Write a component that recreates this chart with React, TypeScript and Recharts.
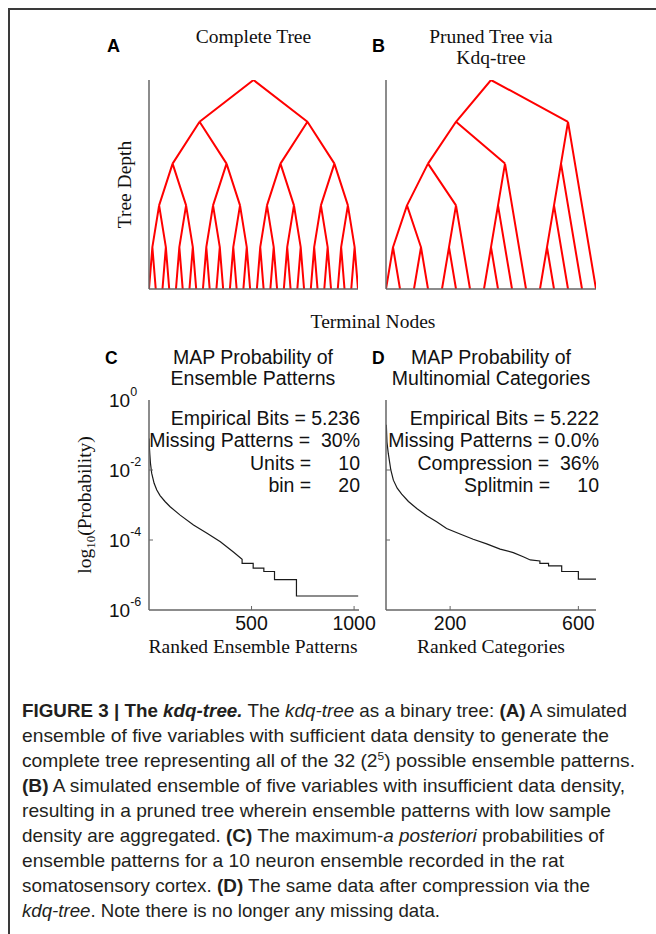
import React from 'react';
import { LineChart, Line, XAxis, YAxis } from 'recharts';

const SERIF = '"Liberation Serif", "Times New Roman", Times, serif';
const SANS = '"Liberation Sans", Arial, Helvetica, sans-serif';
const NARROW = '"Liberation Sans Narrow", "Arial Narrow", "Liberation Sans", Arial, sans-serif';
const AXIS = '#666666';
const TREE_RED = '#ff0000';
const INK = '#111111';

// ---------- Panel A: complete binary tree (5 levels, 32 terminal nodes)
const completeTreeLevels = 5;
// ---------- Panel B: pruned tree (0 = terminal node, [l, r] = split)
const prunedTree: any = [
  [
    [[[0, 0], [0, 0]], [[0, 0], 0]],
    [[[0, 0], 0], 0],
  ],
  [[[[0, 0], 0], 0], 0],
];

// ---------- Panel C: MAP probability of ensemble patterns
const cRanks = [1, 2, 4, 7, 13, 25, 38, 54, 78, 103, 152, 217, 283, 348, 413, 454, 454, 508, 508, 560, 560, 612, 612, 719, 719, 1020];
const cProbs = [
  0.0794, 0.0447, 0.0282, 0.0158, 0.00813, 0.00417, 0.00269, 0.00186, 0.00126, 0.000891, 0.000513, 0.000269,
  0.000155, 8.91e-5, 4.47e-5, 2.82e-5, 2.14e-5, 2.14e-5, 1.58e-5, 1.58e-5, 1.26e-5, 1.26e-5, 7.41e-6, 7.41e-6,
  2.51e-6, 2.51e-6,
];
const cXTicks = [500, 1000];
const cXMax = 1024;

// ---------- Panel D: MAP probability of multinomial categories
const dRanks = [1, 3, 7, 15, 23, 35, 49, 70, 96, 127, 158, 189, 231, 272, 314, 356, 397, 428, 450, 480, 480, 507, 507, 548, 548, 600, 600, 655];
const dProbs = [
  0.195, 0.0631, 0.0302, 0.01, 0.00513, 0.00302, 0.00204, 0.00126, 0.000794, 0.00049, 0.000331, 0.000214,
  0.000148, 0.000105, 7.76e-5, 5.5e-5, 4.37e-5, 3.31e-5, 2.69e-5, 2.51e-5, 2.14e-5, 2.14e-5, 1.82e-5, 1.82e-5,
  1.26e-5, 1.26e-5, 7.59e-6, 7.59e-6,
];
const dXTicks = [200, 600];
const dXMax = 655;

const logTicks = [1e-6, 1e-4, 1e-2, 1];

const cAnnotations = ['Empirical Bits = 5.236', 'Missing Patterns =  30%', 'Units =     10', 'bin =     20'];
const dAnnotations = ['Empirical Bits = 5.222', 'Missing Patterns = 0.0%', 'Compression =  36%', 'Splitmin =     10'];

type Seg = { t: string; b?: boolean; i?: boolean; sup?: boolean };
const captionLines: Seg[][] = [
  [{ t: 'FIGURE 3 | The ', b: true }, { t: 'kdq-tree.', b: true, i: true }, { t: ' The ' }, { t: 'kdq-tree', i: true }, { t: ' as a binary tree: ' }, { t: '(A)', b: true }, { t: ' A simulated' }],
  [{ t: 'ensemble of five variables with sufficient data density to generate the' }],
  [{ t: 'complete tree representing all of the 32 (2' }, { t: '5', sup: true }, { t: ') possible ensemble patterns.' }],
  [{ t: '(B)', b: true }, { t: ' A simulated ensemble of five variables with insufficient data density,' }],
  [{ t: 'resulting in a pruned tree wherein ensemble patterns with low sample' }],
  [{ t: 'density are aggregated. ' }, { t: '(C)', b: true }, { t: ' The maximum-' }, { t: 'a posteriori', i: true }, { t: ' probabilities of' }],
  [{ t: 'ensemble patterns for a 10 neuron ensemble recorded in the rat' }],
  [{ t: 'somatosensory cortex. ' }, { t: '(D)', b: true }, { t: ' The same data after compression via the' }],
  [{ t: 'kdq-tree', i: true }, { t: '. Note there is no longer any missing data.' }],
];
const captionEnds = [627, 609, 635, 625, 611, 604, 564, 590, 440];

// ---------- helpers
function buildComplete(levels: number): any {
  return levels === 0 ? 0 : [buildComplete(levels - 1), buildComplete(levels - 1)];
}

function treeSegments(tree: any, maxDepth: number) {
  let leafCounter = 0;
  const segs: { x: number; y: number | null }[] = [];
  const visit = (node: any, depth: number): { x: number; y: number; leaves: number[] } => {
    if (!Array.isArray(node)) {
      const x = leafCounter++;
      return { x, y: maxDepth, leaves: [x] };
    }
    const kids = node.map((c: any) => visit(c, depth + 1));
    const leaves: number[] = kids.flatMap((k: any) => k.leaves);
    const x = leaves.reduce((a, b) => a + b, 0) / leaves.length;
    kids.forEach((k: any) => {
      segs.push({ x, y: depth }, { x: k.x, y: k.y }, { x: k.x, y: null });
    });
    return { x, y: depth, leaves };
  };
  visit(tree, 0);
  return { segs, leafCount: leafCounter };
}

const treeA = treeSegments(buildComplete(completeTreeLevels), completeTreeLevels);
const treeB = treeSegments(prunedTree, completeTreeLevels);

const cData = cRanks.map((r, i) => ({ rank: r, p: cProbs[i] }));
const dData = dRanks.map((r, i) => ({ rank: r, p: dProbs[i] }));

function TreeChart({ tree, left, width }: { tree: { segs: any[]; leafCount: number }; left: number; width: number }) {
  return (
    <div style={{ position: 'absolute', left, top: 75 }}>
      <LineChart width={width} height={220} data={tree.segs} margin={{ top: 5, right: 6, bottom: 5, left: 4 }}>
        <XAxis
          type="number"
          dataKey="x"
          domain={[0, tree.leafCount - 1]}
          tick={false}
          tickLine={false}
          axisLine
          stroke={AXIS}
          strokeWidth={1.5}
          height={1}
          allowDataOverflow
        />
        <YAxis
          type="number"
          domain={[0, completeTreeLevels]}
          reversed
          tick={false}
          tickLine={false}
          axisLine
          stroke={AXIS}
          strokeWidth={1.5}
          width={1}
          allowDataOverflow
        />
        <Line
          type="linear"
          dataKey="y"
          stroke={TREE_RED}
          strokeWidth={2}
          dot={false}
          activeDot={false}
          connectNulls={false}
          isAnimationActive={false}
          strokeLinejoin="round"
        />
      </LineChart>
    </div>
  );
}

const makeYTick = (showLabel: boolean) => (props: any) => {
  const { x, y, payload } = props;
  const exp = Math.round(Math.log10(payload.value));
  return (
    <g>
      {exp > -6 && exp < 0 && <line x1={x} x2={x + 4} y1={y} y2={y} stroke={AXIS} strokeWidth={1} />}
      {showLabel && (
        <text x={x - 40} y={y + 6.5} fontFamily={SANS} fontSize={19} fill={INK} stroke="none">
          10
          <tspan dy={-11} fontSize={12.5}>
            {String(exp)}
          </tspan>
        </text>
      )}
    </g>
  );
};

const xTick = (props: any) => {
  const { x, y, payload } = props;
  return (
    <g>
      <line x1={x} x2={x} y1={y} y2={y - 4} stroke={AXIS} strokeWidth={1} />
      <text x={x} y={y + 20} textAnchor="middle" fontFamily={SANS} fontSize={19.5} fill={INK} stroke="none">
        {payload.value}
      </text>
    </g>
  );
};

function ProbChart({ data, xMax, xTicks, left, yWidth, showYLabels, width }: any) {
  return (
    <div style={{ position: 'absolute', left, top: 384 }}>
      <LineChart width={width} height={266} data={data} margin={{ top: 16, right: width - yWidth - 210, bottom: 0, left: 0 }}>
        <XAxis
          type="number"
          dataKey="rank"
          domain={[0, xMax]}
          ticks={xTicks}
          tick={xTick}
          tickLine={false}
          tickSize={0}
          tickMargin={0}
          axisLine
          stroke={AXIS}
          strokeWidth={1.5}
          height={40}
          allowDataOverflow
        />
        <YAxis
          type="number"
          scale="log"
          domain={[1e-6, 1]}
          ticks={logTicks}
          tick={makeYTick(showYLabels)}
          tickLine={false}
          tickSize={0}
          tickMargin={0}
          axisLine
          stroke={AXIS}
          strokeWidth={1.5}
          width={yWidth}
          allowDataOverflow
        />
        <Line type="linear" dataKey="p" stroke="#1a1a1a" strokeWidth={1.2} dot={false} activeDot={false} isAnimationActive={false} />
      </LineChart>
    </div>
  );
}

function Texts() {
  const serif = { fontFamily: SERIF, fontSize: 19.5, fill: INK } as any;
  const sans = { fontFamily: SANS, fontSize: 19.5, fill: INK } as any;
  const bold = { fontFamily: SANS, fontSize: 18, fontWeight: 700, fill: '#000' } as any;
  return (
    <svg width={656} height={934} style={{ position: 'absolute', left: 0, top: 0, pointerEvents: 'none' }}>
      {/* Panel A/B */}
      <text x={107} y={52} {...bold}>A</text>
      <text x={253.5} y={43} textAnchor="middle" {...serif}>Complete Tree</text>
      <text x={372} y={52} {...bold}>B</text>
      <text x={491} y={43} textAnchor="middle" {...serif}>Pruned Tree via</text>
      <text x={491} y={64} textAnchor="middle" {...serif}>Kdq-tree</text>
      <text transform="translate(131,184.5) rotate(-90)" textAnchor="middle" {...serif}>Tree Depth</text>
      <text x={373} y={328} textAnchor="middle" {...serif}>Terminal Nodes</text>

      {/* Panel C */}
      <text x={105} y={364} {...bold} fontSize={17.5}>C</text>
      <text x={253} y={364} textAnchor="middle" {...sans}>MAP Probability of</text>
      <text x={253} y={385} textAnchor="middle" {...sans}>Ensemble Patterns</text>
      {cAnnotations.map((s, i) => (
        <text key={s} x={360} y={425 + i * 22.3} textAnchor="end" style={{ whiteSpace: 'pre' }} {...sans}>
          {s}
        </text>
      ))}
      <text transform="translate(91,505) rotate(-90)" textAnchor="middle" {...serif}>
        log<tspan fontSize={13} dy={4}>10</tspan>
        <tspan dy={-4}>(Probability)</tspan>
      </text>
      <text x={253} y={653} textAnchor="middle" {...serif}>Ranked Ensemble Patterns</text>

      {/* Panel D */}
      <text x={372} y={364} {...bold} fontSize={17.5}>D</text>
      <text x={491} y={364} textAnchor="middle" {...sans}>MAP Probability of</text>
      <text x={491} y={385} textAnchor="middle" {...sans}>Multinomial Categories</text>
      {dAnnotations.map((s, i) => (
        <text key={s} x={599} y={425 + i * 22.3} textAnchor="end" style={{ whiteSpace: 'pre' }} {...sans}>
          {s}
        </text>
      ))}
      <text x={491} y={653} textAnchor="middle" {...serif}>Ranked Categories</text>

      {/* Caption */}
      {captionLines.map((line, li) => {
        let shifted = false;
        return (
          <text
            key={li}
            x={22}
            y={717 + li * 25}
            fontFamily={NARROW}
            fontSize={18.5}
            fill="#231f20"
            textLength={captionEnds[li] - 22}
            lengthAdjust="spacingAndGlyphs"
            style={{ whiteSpace: 'pre' }}
          >
            {line.map((s, si) => {
              let dy: number | undefined;
              if (s.sup) {
                dy = -7;
                shifted = true;
              } else if (shifted) {
                dy = 7;
                shifted = false;
              }
              return (
                <tspan
                  key={si}
                  dy={dy}
                  fontWeight={s.b ? 700 : 400}
                  fontStyle={s.i ? 'italic' : 'normal'}
                  fontSize={s.sup ? 11.5 : undefined}
                >
                  {s.t}
                </tspan>
              );
            })}
          </text>
        );
      })}
    </svg>
  );
}

export default function App() {
  return (
    <div style={{ position: 'absolute', left: 0, top: 0, width: 656, height: 934, overflow: 'hidden', background: '#fff' }}>
      <div
        style={{
          position: 'absolute',
          left: 8,
          top: 8,
          width: 660,
          height: 940,
          borderTop: '2px solid #3a3a3a',
          borderLeft: '2px solid #3a3a3a',
          boxSizing: 'border-box',
        }}
      />
      <TreeChart tree={treeA} left={144} width={220} />
      <TreeChart tree={treeB} left={381} width={221} />
      <ProbChart data={cData} xMax={cXMax} xTicks={cXTicks} left={104} yWidth={45} showYLabels width={279} />
      <ProbChart data={dData} xMax={dXMax} xTicks={dXTicks} left={376} yWidth={10} showYLabels={false} width={250} />
      <Texts />
    </div>
  );
}
